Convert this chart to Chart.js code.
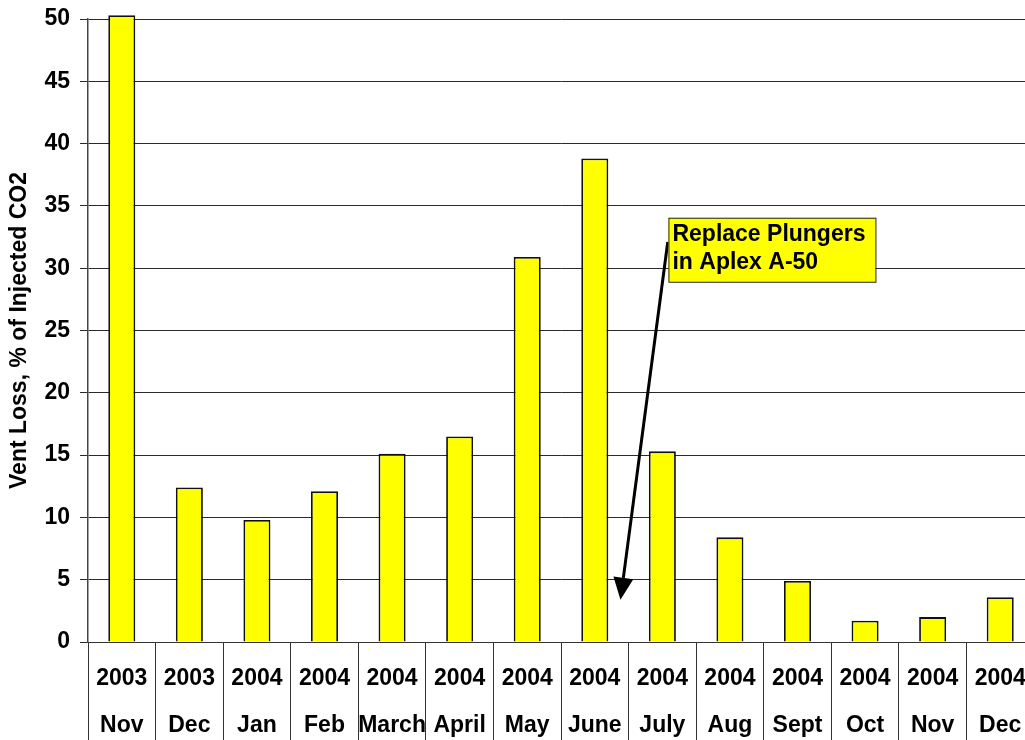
<!DOCTYPE html>
<html>
<head>
<meta charset="utf-8">
<title>Vent Loss</title>
<script src="https://cdn.jsdelivr.net/npm/chart.js"></script>
<style>
  html, body { margin: 0; padding: 0; background: #fff; overflow: hidden; }
  #wrap { width: 1040px; height: 740px; position: relative; }
</style>
</head>
<body>
<div id="wrap"><canvas id="ventChart"></canvas></div>
<script>
const years  = ['2003','2003','2004','2004','2004','2004','2004','2004','2004','2004','2004','2004','2004','2004'];
const months = ['Nov','Dec','Jan','Feb','March','April','May','June','July','Aug','Sept','Oct','Nov','Dec'];
const ventLoss = [50.3, 12.4, 9.8, 12.1, 15.1, 16.5, 30.9, 38.8, 15.3, 8.4, 4.9, 1.7, 2.0, 3.6];
const yTicks = [0, 5, 10, 15, 20, 25, 30, 35, 40, 45, 50];

// callout: box corner and arrow ends, in category index / % units
const noteLines = ['Replace Plungers', 'in Aplex A-50'];
const noteBox = { x: 8.09, y: 34.05 };
const noteArrow = { from: [8.08, 32.1], to: [7.38, 3.4] };

const FONT = '"Liberation Sans", Arial, sans-serif';

const callout = {
  id: 'callout',
  afterDatasetsDraw(chart) {
    const { ctx, scales: { x, y } } = chart;
    const px = v => x.getPixelForValue(0) + v * (x.getPixelForValue(1) - x.getPixelForValue(0));
    ctx.save();
    // arrow
    const x1 = px(noteArrow.from[0]), y1 = y.getPixelForValue(noteArrow.from[1]);
    const x2 = px(noteArrow.to[0]), y2 = y.getPixelForValue(noteArrow.to[1]);
    const ang = Math.atan2(y2 - y1, x2 - x1);
    const head = 22, half = 10;
    const bx = x2 - head * Math.cos(ang), by = y2 - head * Math.sin(ang);
    ctx.strokeStyle = '#000';
    ctx.lineWidth = 3;
    ctx.beginPath();
    ctx.moveTo(x1, y1);
    ctx.lineTo(bx, by);
    ctx.stroke();
    ctx.fillStyle = '#000';
    ctx.beginPath();
    ctx.moveTo(x2, y2);
    ctx.lineTo(bx + half * Math.sin(ang), by - half * Math.cos(ang));
    ctx.lineTo(bx - half * Math.sin(ang), by + half * Math.cos(ang));
    ctx.closePath();
    ctx.fill();
    // box
    const left = px(noteBox.x), top = y.getPixelForValue(noteBox.y);
    ctx.font = 'bold 23px ' + FONT;
    const w = 207, h = 64;
    ctx.fillStyle = '#ffff00';
    ctx.fillRect(left, top, w, h);
    ctx.strokeStyle = '#222';
    ctx.lineWidth = 1;
    ctx.strokeRect(left + 0.5, top + 0.5, w, h);
    ctx.fillStyle = '#000';
    ctx.textBaseline = 'middle';
    ctx.textAlign = 'left';
    noteLines.forEach((t, i) => ctx.fillText(t, left + 4, top + 17 + i * 28));
    ctx.restore();
  }
};

new Chart(document.getElementById('ventChart'), {
  type: 'bar',
  data: {
    labels: years.map((yr, i) => [yr, months[i]]),
    datasets: [{
      label: 'Vent Loss',
      data: ventLoss,
      backgroundColor: '#ffff00',
      borderColor: '#111',
      borderWidth: 1.8,
      barPercentage: 0.4,
      categoryPercentage: 1,
      clip: false
    }]
  },
  options: {
    responsive: true,
    maintainAspectRatio: false,
    animation: false,
    layout: { padding: { top: 19, right: 6, left: 0, bottom: 0 } },
    plugins: { legend: { display: false }, tooltip: { enabled: false } },
    scales: {
      x: {
        grid: { offset: true, drawOnChartArea: false, drawTicks: true, tickLength: 98, color: '#333', lineWidth: 1 },
        border: { color: '#333', width: 1 },
        ticks: {
          color: '#000',
          padding: -85,
          maxRotation: 0,
          autoSkip: false,
          font: { family: FONT, size: 23, weight: 'bold', lineHeight: 2.04 }
        },
        afterFit(scale) { scale.height = 98; }
      },
      y: {
        min: 0,
        max: 50,
        afterBuildTicks(scale) { scale.ticks = yTicks.map(v => ({ value: v })); },
        grid: { color: '#2a2a2a', lineWidth: 1, tickLength: 8 },
        border: { color: '#444', width: 1.5 },
        ticks: {
          color: '#000',
          padding: 10,
          font: { family: FONT, size: 23, weight: 'bold' }
        },
        title: {
          display: true,
          text: 'Vent Loss, % of Injected CO2',
          color: '#000',
          padding: { top: 6, bottom: 0 },
          font: { family: FONT, size: 23, weight: 'bold' }
        },
        afterFit(scale) {
          scale.width = 88;
          scale.paddingTop = 0;
          scale.paddingBottom = 0;
        }
      }
    }
  },
  plugins: [callout]
});
</script>
</body>
</html>
